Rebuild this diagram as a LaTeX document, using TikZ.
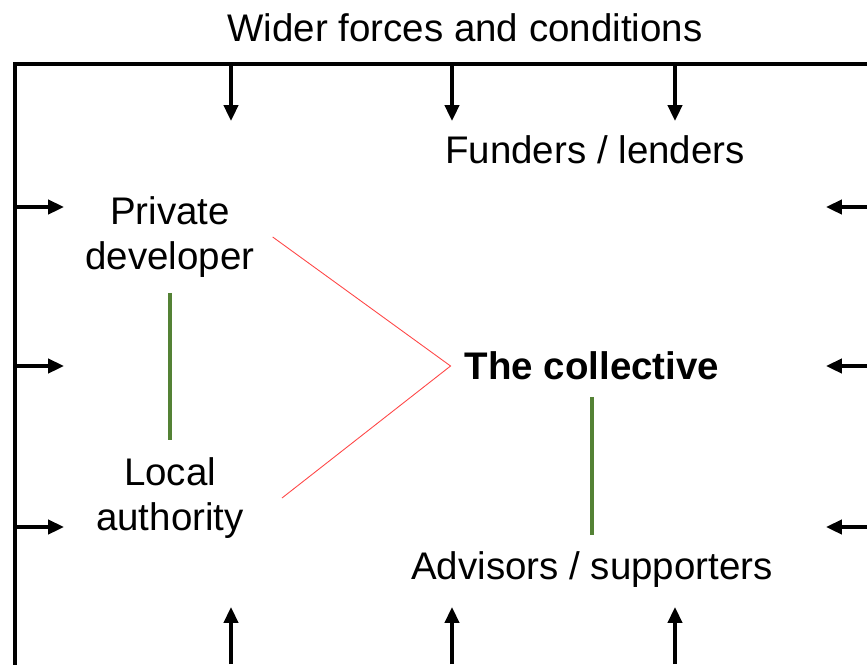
\documentclass[tikz,border=0pt]{standalone}
\usepackage{fontspec}
\setmainfont{Liberation Sans}
\usepackage{xcolor}
\usetikzlibrary{positioning,arrows.meta,calc}

\definecolor{linkgreen}{RGB}{84,130,53}
\definecolor{linkred}{RGB}{255,70,70}

\tikzset{
    label/.style = {align=center, font=\fontsize{21.9}{26}\selectfont},
    force/.style = {-{Triangle[length=9pt,width=8pt]}, line width=2.1pt},
    frame/.style = {line width=2.4pt},
    tie/.style = {linkgreen, line width=2.3pt},
    pull/.style = {linkred, line width=0.5pt}
}

\begin{document}
\begin{tikzpicture}[x=0.02cm, y=-0.02cm]
    \useasboundingbox (0,0) rectangle (867,664);
    \clip (0,0) rectangle (867,664);

    % outer frame, cut by the page on the right and at the bottom
    \draw[frame] (900,64) -- (15,64) -- (15,700);

    \node[label] (title) at (465,28) {Wider forces and conditions};

    % pressures from outside
    \foreach \x [count=\i] in {231,452,675} {
        \coordinate (top\i) at (\x,64);
        \coordinate (topend\i) at (\x,121);
        \draw[force] (top\i) -- (topend\i);
        \coordinate (bot\i) at (\x,664);
        \coordinate (botend\i) at (\x,607);
        \draw[force] (bot\i) -- (botend\i);
    }
    \foreach \y [count=\i] in {207,366,527} {
        \coordinate (lft\i) at (15,\y);
        \coordinate (lftend\i) at (64,\y);
        \draw[force] (lft\i) -- (lftend\i);
        \coordinate (rgt\i) at (867,\y);
        \coordinate (rgtend\i) at (826,\y);
        \draw[force] (rgt\i) -- (rgtend\i);
    }

    \node[label] (fund) at (595,150) {Funders / lenders};
    \node[label] (dev) at (170,237) {Private\\developer};
    \node[label] (auth) at (170,498) {Local\\authority};
    \node[label, font=\fontsize{21.9}{26}\selectfont\bfseries] (coll) at (592,366) {The collective};
    \node[label] (adv) at (592,570) {Advisors / supporters};

    \coordinate (apex) at ($(coll.west)+(-8,0)$);
    \draw[pull] ($(dev.east)+(12,0)$) -- (apex) -- ($(auth.east)+(32,0)$);

    \draw[tie, shorten <=5pt, shorten >=6pt] (dev.south) -- (auth.north);
    \draw[tie, shorten <=6pt, shorten >=6pt] (coll.south) -- (coll.south |- adv.north);
\end{tikzpicture}
\end{document}
